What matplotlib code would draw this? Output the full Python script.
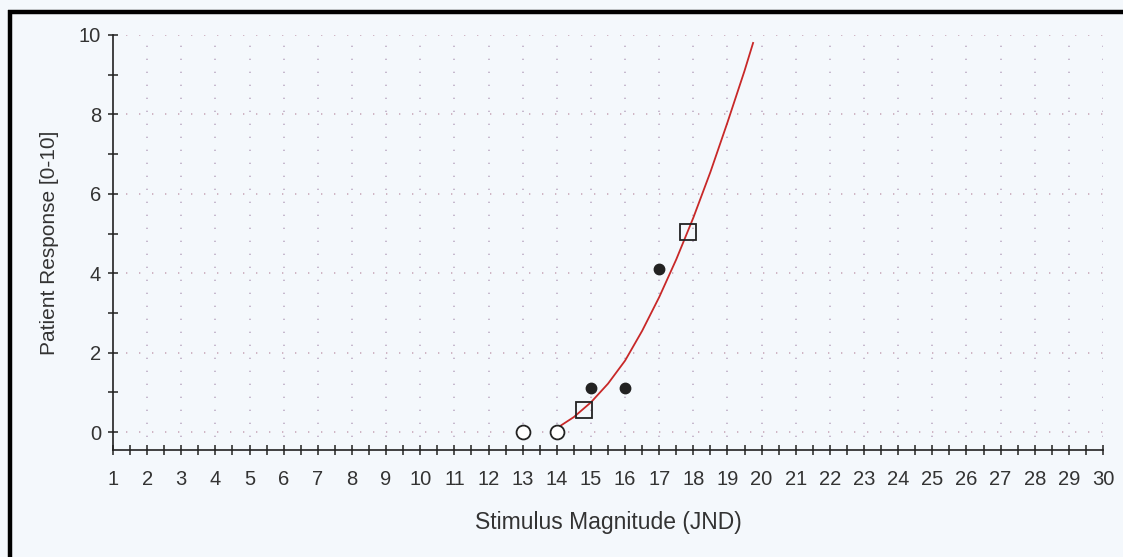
import matplotlib
matplotlib.use("Agg")
import matplotlib.pyplot as plt
from matplotlib.lines import Line2D
from matplotlib.ticker import MultipleLocator

plt.rcParams['font.family'] = ['Liberation Sans', 'DejaVu Sans']

# Stimulus values rated 0 (no sensation)
zero_x = [13, 14]
zero_y = [0, 0]

# Individual patient ratings
rating_x = [15, 16, 17]
rating_y = [1.1, 1.1, 4.1]

# Reference (averaged) points
ref_x = [14.8, 17.85]
ref_y = [0.55, 5.05]

# Fitted response curve
curve_x = [14.0, 14.5, 15.0, 15.5, 16.0, 16.5, 17.0, 17.5, 18.0,
           18.5, 19.0, 19.5, 19.75]
curve_y = [0.1, 0.38, 0.75, 1.22, 1.8, 2.55, 3.4, 4.35, 5.4,
           6.55, 7.8, 9.1, 9.8]

x_ticks = list(range(1, 31))
y_ticks = [0, 2, 4, 6, 8, 10]

W, H = 1123, 557
bg = '#f4f8fc'
fig = plt.figure(figsize=(W / 100, H / 100), dpi=100, facecolor=bg)

# Frame lines along the top and left edges
fig.add_artist(Line2D([8 / W, 1], [1 - 11.5 / H, 1 - 11.5 / H], color='black',
                      lw=3.2, transform=fig.transFigure, solid_capstyle='butt'))
fig.add_artist(Line2D([9.5 / W, 9.5 / W], [0, 1 - 10 / H], color='black',
                      lw=3.2, transform=fig.transFigure, solid_capstyle='butt'))

ax = fig.add_axes([113 / W, (H - 450) / H, (1103 - 113) / W, (450 - 35) / H])
ax.set_facecolor(bg)
ax.set_xlim(1, 30)
ax.set_ylim(-0.45, 10)

for s in ['top', 'right']:
    ax.spines[s].set_visible(False)
for s in ['left', 'bottom']:
    ax.spines[s].set_color('#222222')
    ax.spines[s].set_linewidth(1.2)

ax.xaxis.set_minor_locator(MultipleLocator(0.5))
ax.yaxis.set_minor_locator(MultipleLocator(1))
ax.set_xticks(x_ticks)
ax.set_xticklabels([str(v) for v in x_ticks])
ax.set_yticks(y_ticks)
ax.set_yticklabels([str(v) for v in y_ticks])

ax.tick_params(axis='both', which='both', direction='inout', length=7,
               width=1.1, color='#222222', labelsize=14.5, labelcolor='#333333')
ax.tick_params(axis='x', which='major', pad=11)
ax.tick_params(axis='y', which='major', pad=5)

# Dotted grid: every stimulus step, every second response step
dot = (0, (0.8, 7))
for xv in x_ticks[1:]:
    ax.axvline(xv, color='#bfaec6', lw=1.2, linestyle=dot, zorder=0)
for yv in y_ticks:
    ax.axhline(yv, color='#c9a9bb', lw=1.2, linestyle=dot, zorder=0)

ax.plot(curve_x, curve_y, color='#c82828', lw=1.3, zorder=3)
ax.plot(zero_x, zero_y, 'o', ms=10, mfc='white', mec='#222222', mew=1.3,
        zorder=4, clip_on=False)
ax.plot(rating_x, rating_y, 'o', ms=7.5, mfc='#222222', mec='#222222',
        zorder=4)
ax.plot(ref_x, ref_y, 's', ms=12, mfc='none', mec='#222222', mew=1.3,
        zorder=4)

ax.set_xlabel('Stimulus Magnitude (JND)', fontsize=16.5, color='#333333',
              labelpad=16)
ax.set_ylabel('Patient Response [0-10]', fontsize=15, color='#333333',
              labelpad=14)

fig.savefig('out.png', dpi=100, facecolor=bg)
